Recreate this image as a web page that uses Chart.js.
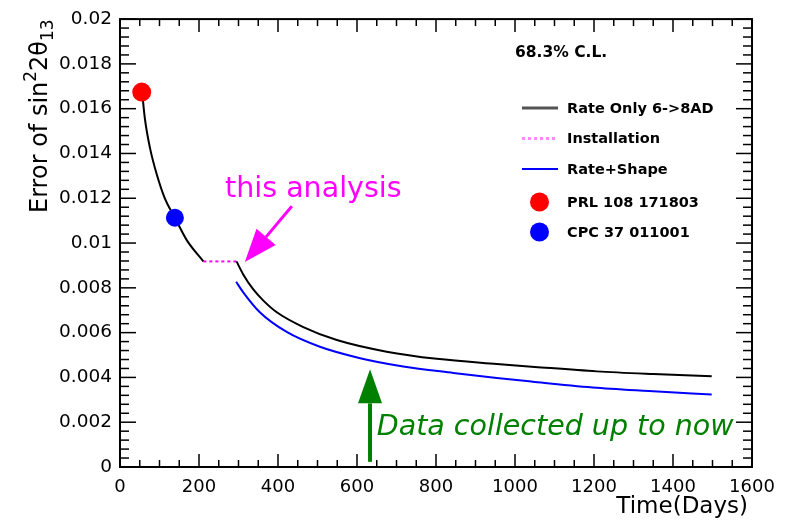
<!DOCTYPE html>
<html>
<head>
<meta charset="utf-8">
<script src="https://cdn.jsdelivr.net/npm/chart.js@4"></script>
<style>
html,body{margin:0;padding:0;background:#fff;}
canvas{display:block;}
</style>
</head>
<body>
<canvas id="c" width="790" height="529"></canvas>
<script>
// ---- data ----
const xTickLabels = ['0','200','400','600','800','1000','1200','1400','1600'];
const yTickLabels = ['0','0.002','0.004','0.006','0.008','0.01','0.012','0.014','0.016','0.018','0.02'];

const rateOnlyDays1 = [56, 63, 76, 93, 114, 139, 169, 211];
const rateOnlyErr1  = [0.01674, 0.01556, 0.01424, 0.01307, 0.01197, 0.01113, 0.01013, 0.00918];
const rateOnlyDays2 = [295, 312, 337, 363, 397, 464, 549, 675, 802, 954, 1050, 1207, 1350, 1498];
const rateOnlyErr2  = [0.00918, 0.00860, 0.00794, 0.00743, 0.00691, 0.00625, 0.00567, 0.00515, 0.00483, 0.00460, 0.00447, 0.00427, 0.00415, 0.00405];

const installDays = [211, 295];
const installErr  = [0.00918, 0.00918];

const shapeDays = [294, 312, 354, 422, 506, 608, 717, 844, 954, 1050, 1207, 1350, 1498];
const shapeErr  = [0.00827, 0.00780, 0.00691, 0.00603, 0.00537, 0.00486, 0.00449, 0.00420, 0.00397, 0.00380, 0.00354, 0.00338, 0.00324];

const prlDays = [55];  const prlErr = [0.01674];
const cpcDays = [139]; const cpcErr = [0.01113];

// annotation anchors (data coordinates)
const thisAnalysisText = {x: 266, y: 0.01204, text: 'this analysis'};
const thisAnalysisArrow = {x0: 435, y0: 0.01164, x1: 316, y1: 0.00915};
const dataNowText = {x: 650, y: 0.00141, text: 'Data collected up to now'};
const dataNowArrow = {x0: 633, y0: 0.00023, x1: 633, y1: 0.00436};
const clText = '68.3% C.L.';

const zip = (xs, ys) => xs.map((v, i) => ({x: v, y: ys[i]}));
const rateOnlyData = zip(rateOnlyDays1, rateOnlyErr1).concat([{x: 253, y: null}], zip(rateOnlyDays2, rateOnlyErr2));

const FONT = '"DejaVu Sans", "Liberation Sans", sans-serif';

const frame = {
  id: 'frame',
  afterDraw(chart) {
    const {ctx, chartArea: a, scales: {x, y}} = chart;
    ctx.save();
    const line = (x0, y0, x1, y1) => { ctx.beginPath(); ctx.moveTo(x0, y0); ctx.lineTo(x1, y1); ctx.stroke(); };
    // frame
    ctx.strokeStyle = '#000';
    ctx.lineWidth = 2;
    ctx.strokeRect(a.left, a.top, a.right - a.left, a.bottom - a.top);
    // ticks (inward, all four sides)
    ctx.lineWidth = 1.5;
    const xMax = x.max, yMax = y.max;
    const xMajor = xMax / (xTickLabels.length - 1), yMajor = yMax / (yTickLabels.length - 1);
    for (let i = 0; i <= (xTickLabels.length - 1) * 4; i++) {
      const px = x.getPixelForValue(i * xMajor / 4);
      const L = i % 4 === 0 ? 13 : 7;
      line(px, a.bottom, px, a.bottom - L);
      line(px, a.top, px, a.top + L);
    }
    for (let i = 0; i <= (yTickLabels.length - 1) * 5; i++) {
      const py = y.getPixelForValue(i * yMajor / 5);
      const L = i % 5 === 0 ? 16 : 9;
      line(a.left, py, a.left + L, py);
      line(a.right, py, a.right - L, py);
    }

    // y axis title
    ctx.save();
    ctx.translate(47, 213);
    ctx.rotate(-Math.PI / 2);
    ctx.fillStyle = '#000';
    ctx.textBaseline = 'alphabetic';
    ctx.textAlign = 'left';
    let cx = 0;
    const put = (t, size, dy) => { ctx.font = size + 'px ' + FONT; ctx.fillText(t, cx, dy); cx += ctx.measureText(t).width; };
    put('Error of sin', 24, 0);
    put('2', 17, -11);
    put('2θ', 24, 0);
    put('13', 17, 6);
    ctx.restore();

    // x axis title
    ctx.fillStyle = '#000';
    ctx.font = '23px ' + FONT;
    ctx.textAlign = 'right';
    ctx.textBaseline = 'alphabetic';
    ctx.fillText('Time(Days)', 748, 513);

    // C.L. text
    ctx.textAlign = 'left';
    ctx.font = 'bold 15.5px ' + FONT;
    ctx.fillText(clText, 515, 57);

    // legend
    const ds = chart.data.datasets;
    const order = [2, 3, 4, 0, 1];
    const rows = [108, 138.5, 169, 202, 232];
    ctx.font = 'bold 14.5px ' + FONT;
    ctx.textBaseline = 'middle';
    order.forEach((di, r) => {
      const d = ds[di], yy = rows[r];
      if (d.legendType === 'line') {
        ctx.save();
        ctx.strokeStyle = d.legendColor || d.borderColor;
        ctx.lineWidth = d.legendWidth || d.borderWidth;
        ctx.setLineDash(d.borderDash || []);
        line(522, yy, 558, yy);
        ctx.restore();
      } else {
        ctx.beginPath();
        ctx.fillStyle = d.backgroundColor;
        ctx.arc(539.5, yy, 9.5, 0, Math.PI * 2);
        ctx.fill();
      }
      ctx.fillStyle = '#000';
      ctx.fillText(d.label, 567, yy + 1);
    });

    // "this analysis" annotation
    const arrow = (x0, y0, x1, y1, color, w, headL, headW) => {
      const dx = x1 - x0, dy = y1 - y0, len = Math.hypot(dx, dy);
      const ux = dx / len, uy = dy / len;
      const bx = x1 - ux * headL, by = y1 - uy * headL;
      ctx.strokeStyle = color; ctx.fillStyle = color; ctx.lineWidth = w;
      ctx.setLineDash([]);
      line(x0, y0, bx, by);
      ctx.beginPath();
      ctx.moveTo(x1, y1);
      ctx.lineTo(bx - uy * headW, by + ux * headW);
      ctx.lineTo(bx + uy * headW, by - ux * headW);
      ctx.closePath();
      ctx.fill();
    };
    ctx.textBaseline = 'alphabetic';
    ctx.font = '28.5px ' + FONT;
    ctx.fillStyle = '#ff00ff';
    ctx.fillText(thisAnalysisText.text, x.getPixelForValue(thisAnalysisText.x), y.getPixelForValue(thisAnalysisText.y));
    arrow(x.getPixelForValue(thisAnalysisArrow.x0), y.getPixelForValue(thisAnalysisArrow.y0),
          x.getPixelForValue(thisAnalysisArrow.x1), y.getPixelForValue(thisAnalysisArrow.y1),
          '#ff00ff', 3, 33, 12.5);

    // "Data collected" annotation
    arrow(x.getPixelForValue(dataNowArrow.x0), y.getPixelForValue(dataNowArrow.y0),
          x.getPixelForValue(dataNowArrow.x1), y.getPixelForValue(dataNowArrow.y1),
          '#008000', 4, 34, 12);
    ctx.font = 'oblique 28.5px ' + FONT;
    ctx.fillStyle = '#008000';
    ctx.fillText(dataNowText.text, x.getPixelForValue(dataNowText.x), y.getPixelForValue(dataNowText.y));
    ctx.restore();
  }
};

new Chart(document.getElementById('c'), {
  type: 'scatter',
  data: {
    datasets: [
      {label: 'PRL 108 171803', data: zip(prlDays, prlErr), backgroundColor: '#ff0000', borderColor: '#ff0000',
       pointRadius: 9.5, pointBorderWidth: 0, showLine: false, legendType: 'point'},
      {label: 'CPC 37 011001', data: zip(cpcDays, cpcErr), backgroundColor: '#0000ff', borderColor: '#0000ff',
       pointRadius: 9, pointBorderWidth: 0, showLine: false, legendType: 'point'},
      {label: 'Rate Only 6->8AD', data: rateOnlyData, borderColor: '#000', borderWidth: 2, showLine: true,
       pointRadius: 0, spanGaps: false, cubicInterpolationMode: 'monotone', legendType: 'line',
       legendColor: '#555', legendWidth: 3},
      {label: 'Installation', data: zip(installDays, installErr), borderColor: '#ff00ff', borderWidth: 2,
       borderDash: [3, 3], showLine: true, pointRadius: 0, legendType: 'line', legendColor: '#ff88ff', legendWidth: 3},
      {label: 'Rate+Shape', data: zip(shapeDays, shapeErr), borderColor: '#0000ff', borderWidth: 2, showLine: true,
       pointRadius: 0, cubicInterpolationMode: 'monotone', legendType: 'line', legendWidth: 2}
    ]
  },
  options: {
    responsive: false,
    animation: false,
    events: [],
    layout: {padding: {top: 12, right: 38, left: 0, bottom: 0}},
    plugins: {legend: {display: false}, tooltip: {enabled: false}},
    scales: {
      x: {
        type: 'linear', min: 0, max: 1600,
        afterFit: s => { s.height = 62; },
        grid: {display: false, drawTicks: false},
        border: {display: false},
        ticks: {stepSize: 200, autoSkip: false, maxRotation: 0, padding: 10, color: '#000',
                font: {family: FONT, size: 18},
                callback: (v, i) => xTickLabels[i]}
      },
      y: {
        type: 'linear', min: 0, max: 0.02,
        afterFit: s => { s.width = 120; },
        grid: {display: false, drawTicks: false},
        border: {display: false},
        ticks: {stepSize: 0.002, autoSkip: false, padding: 8, color: '#000',
                font: {family: FONT, size: 18.5},
                callback: (v, i) => yTickLabels[i]}
      }
    }
  },
  plugins: [frame]
});
</script>
</body>
</html>
